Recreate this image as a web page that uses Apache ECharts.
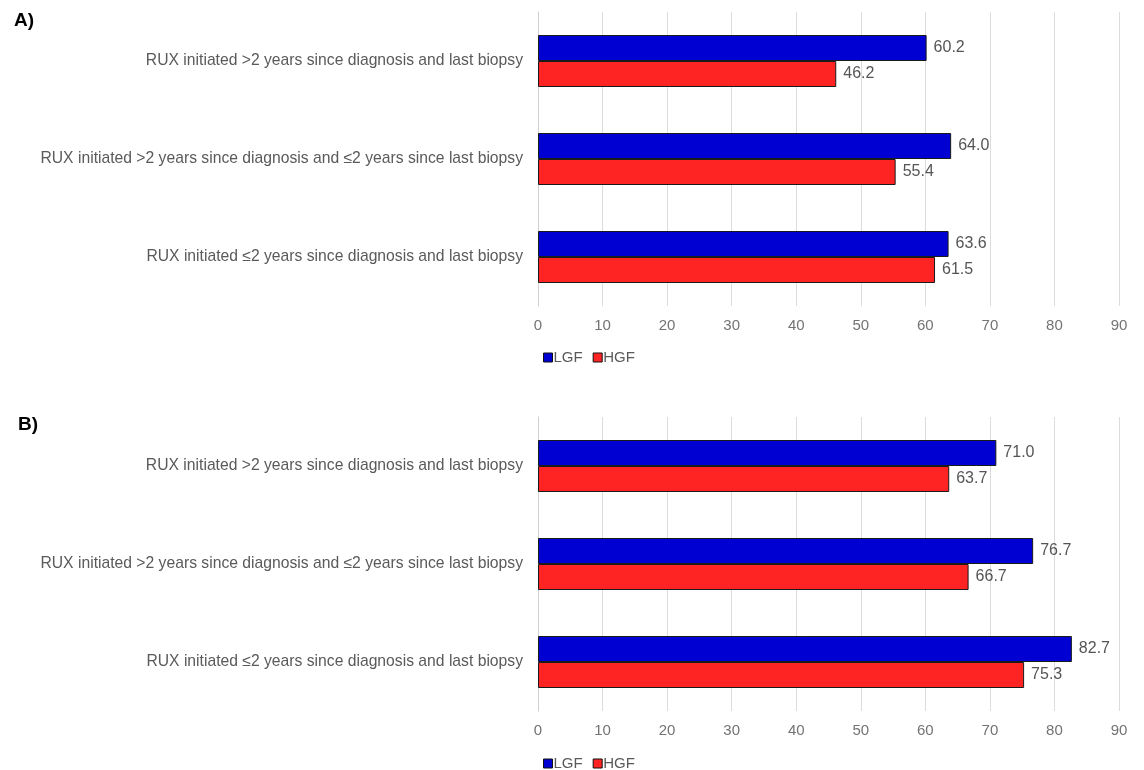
<!DOCTYPE html>
<html>
<head>
<meta charset="utf-8">
<script src="https://cdn.jsdelivr.net/npm/echarts@6/dist/echarts.min.js"></script>
<style>
  html, body { margin: 0; padding: 0; background: #fff; }
  #chart { width: 1144px; height: 770px; }
</style>
</head>
<body>
<div id="chart"></div>
<script>
// Categories, listed top to bottom
const categories = [
  'RUX initiated >2 years since diagnosis and last biopsy',
  'RUX initiated >2 years since diagnosis and ≤2 years since last biopsy',
  'RUX initiated ≤2 years since diagnosis and last biopsy'
];
const seriesNames = ['LGF', 'HGF'];
// Panel A
const panelA_LGF = [60.2, 64.0, 63.6];
const panelA_HGF = [46.2, 55.4, 61.5];
// Panel B
const panelB_LGF = [71.0, 76.7, 82.7];
const panelB_HGF = [63.7, 66.7, 75.3];
const panelLabels = ['A)', 'B)'];
const xTicks = { min: 0, max: 90, interval: 10 };

const colors = ['#0000D2', '#FF2424'];
const fontFamily = 'Liberation Sans, Arial, sans-serif';

const grids = [
  { left: 538, right: 25, top: 12, height: 294 },
  { left: 538, right: 25, top: 417, height: 294 }
];

function xAxis(i) {
  return {
    type: 'value', gridIndex: i, min: xTicks.min, max: xTicks.max, interval: xTicks.interval,
    axisLine: { show: false },
    axisTick: { show: false },
    axisLabel: { color: '#737373', fontSize: 15, fontFamily, margin: 12 },
    splitLine: { show: true, lineStyle: { color: '#dcdcdc', width: 1 } }
  };
}
function yAxis(i) {
  return {
    type: 'category', gridIndex: i, data: categories, inverse: true,
    axisLine: { show: true, lineStyle: { color: '#d0d0d0' } },
    axisTick: { show: false },
    axisLabel: { color: '#5a5a5a', fontSize: 15.7, fontFamily, margin: 15 }
  };
}
function bar(name, data, idx, color) {
  return {
    name, type: 'bar', data, xAxisIndex: idx, yAxisIndex: idx,
    barWidth: 26, barGap: '0%',
    itemStyle: { color, borderColor: '#1a1a1a', borderWidth: 1 },
    label: {
      show: true, position: 'right', distance: 7, color: '#555', fontSize: 16, fontFamily,
      formatter: p => p.value.toFixed(1)
    }
  };
}

function legend(top) {
  return {
    data: seriesNames, left: 538, top, itemWidth: 9, itemHeight: 9, itemGap: 10,
    icon: 'rect',
    itemStyle: { borderColor: '#111', borderWidth: 1 },
    textStyle: { color: '#5a5a5a', fontSize: 15, fontFamily, padding: [0, 0, 0, -4] }
  };
}

const chart = echarts.init(document.getElementById('chart'), null, { renderer: 'canvas' });
chart.setOption({
  animation: false,
  backgroundColor: '#fff',
  color: colors,
  grid: grids,
  xAxis: [xAxis(0), xAxis(1)],
  yAxis: [yAxis(0), yAxis(1)],
  legend: [legend(345), legend(751)],
  graphic: [
    { type: 'text', left: 14, top: 11, style: { text: panelLabels[0], font: 'bold 19px ' + fontFamily, fill: '#000' } },
    { type: 'text', left: 18, top: 415, style: { text: panelLabels[1], font: 'bold 19px ' + fontFamily, fill: '#000' } }
  ],
  series: [
    bar(seriesNames[0], panelA_LGF, 0, colors[0]),
    bar(seriesNames[1], panelA_HGF, 0, colors[1]),
    bar(seriesNames[0], panelB_LGF, 1, colors[0]),
    bar(seriesNames[1], panelB_HGF, 1, colors[1])
  ]
});
</script>
</body>
</html>
